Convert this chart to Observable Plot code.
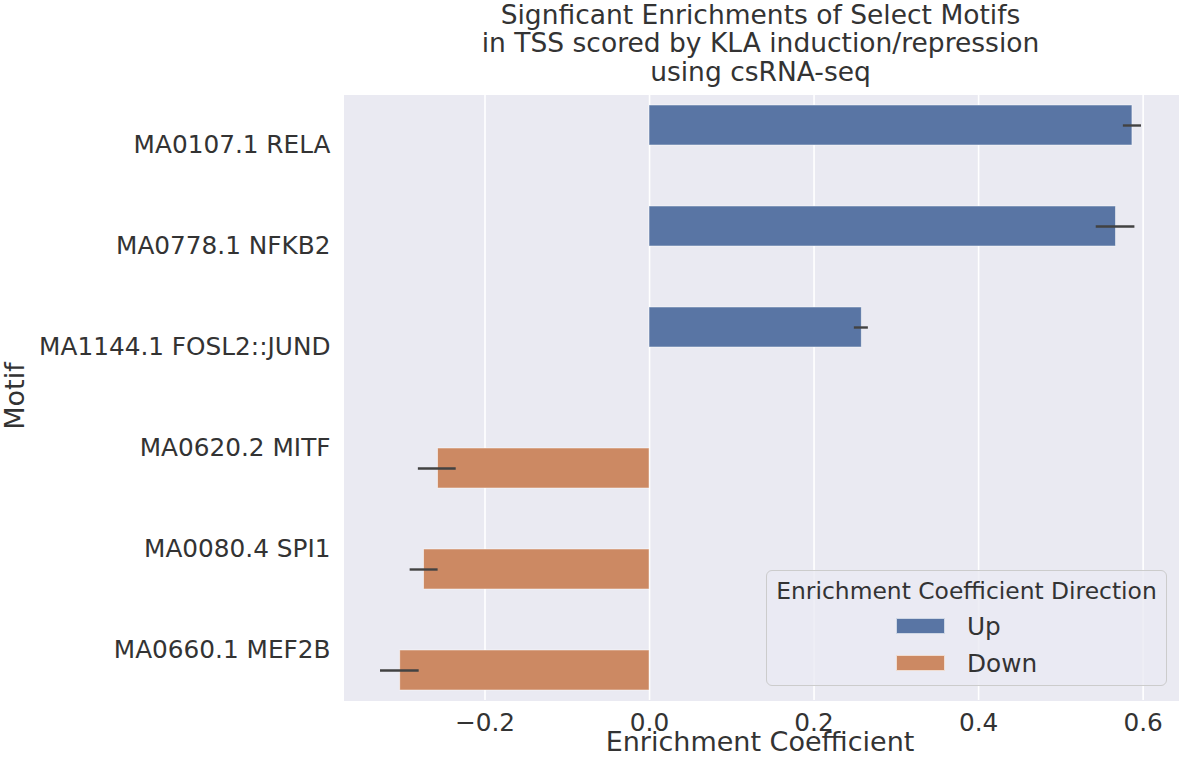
<!DOCTYPE html>
<html>
<head>
<meta charset="utf-8">
<script src="https://cdn.jsdelivr.net/npm/d3@7"></script>
<script src="https://cdn.jsdelivr.net/npm/@observablehq/plot@0.6"></script>
<style>
  body { margin: 0; background: #fff; font-family: "DejaVu Sans", sans-serif; color: #333333; }
  #wrap { position: relative; width: 1181px; height: 763px; overflow: hidden; }
  .t { position: absolute; white-space: nowrap; }
  #legend { position: absolute; left: 766px; top: 570px; width: 399px; height: 114px;
            border: 1px solid #cccccc; border-radius: 6px; background: rgba(234,234,242,0.8); }
  #legend .lt { position: absolute; left: 0; width: 100%; top: 8px; text-align: center; font-size: 23.4px; line-height: 24px; }
  #legend .row { position: absolute; left: 129px; height: 26px; display: flex; align-items: center; font-size: 24.75px; }
  #legend .sw { width: 49px; height: 16px; margin-right: 22px; box-sizing: border-box; border: 1px solid rgba(255,255,255,0.7); }
</style>
</head>
<body>
<div id="wrap">
  <div id="chart"></div>
  <div class="t" style="left:343px;width:835px;top:1px;text-align:center;font-size:26.5px;line-height:28.4px">Signficant Enrichments of Select Motifs<br>in TSS scored by KLA induction/repression<br>using csRNA-seq</div>
  <div class="t" style="left:760px;top:742px;transform:translate(-50%,-50%);font-size:27px;line-height:18px">Enrichment Coefficient</div>
  <div class="t" style="left:14px;top:396px;transform:translate(-50%,-50%) rotate(-90deg);font-size:27px;line-height:27px">Motif</div>
  <div id="legend"><div class="lt">Enrichment Coefficient Direction</div></div>
</div>
<script>
// ---- data ----
const motifs = ["MA0107.1 RELA", "MA0778.1 NFKB2", "MA1144.1 FOSL2::JUND", "MA0620.2 MITF", "MA0080.4 SPI1", "MA0660.1 MEF2B"];
const directions = ["Up", "Up", "Up", "Down", "Down", "Down"];
const coef = [0.587, 0.567, 0.258, -0.257, -0.274, -0.303];
const ciLow = [0.576, 0.543, 0.249, -0.281, -0.291, -0.327];
const ciHigh = [0.598, 0.590, 0.266, -0.235, -0.257, -0.280];
const dirOrder = ["Up", "Down"];
const dirColors = ["#5975a4", "#cc8963"];
const xTicks = [-0.2, 0.0, 0.2, 0.4, 0.6];

const data = motifs.map((m, i) => ({motif: m, dir: directions[i], coef: coef[i], lo: ciLow[i], hi: ciHigh[i]}));

const chart = Plot.plot({
  width: 1181,
  height: 763,
  marginTop: 91,
  marginBottom: 61,
  marginLeft: 343,
  marginRight: 3,
  style: {fontFamily: "DejaVu Sans", fontSize: "24.75px", color: "#333333", background: "transparent", overflow: "visible"},
  x: {domain: [-0.372, 0.643], ticks: xTicks, tickFormat: d3.format(".1f"), tickSize: 0, tickPadding: 13, label: null},
  fy: {domain: motifs, padding: 0, label: null, tickSize: 0, tickPadding: 13},
  y: {domain: dirOrder, paddingInner: 0, paddingOuter: 0.25, axis: null},
  color: {domain: dirOrder, range: dirColors},
  marks: [
    Plot.frame({fill: "#eaeaf2", shapeRendering: "crispEdges"}),
    Plot.gridX(xTicks, {stroke: "white", strokeOpacity: 1, strokeWidth: 1.6}),
    Plot.barX(data, {x: "coef", y: "dir", fy: "motif", fill: "dir", stroke: "white", strokeWidth: 0.8, strokeOpacity: 0.6}),
    Plot.ruleY(data, {x1: "lo", x2: "hi", y: "dir", fy: "motif", stroke: "#424242", strokeWidth: 2.4})
  ]
});
document.getElementById("chart").appendChild(chart);

// legend
const legend = document.getElementById("legend");
const rowTops = [42, 79];
dirOrder.forEach((d, i) => {
  const row = document.createElement("div");
  row.className = "row";
  row.style.top = rowTops[i] + "px";
  const sw = document.createElement("div");
  sw.className = "sw";
  sw.style.background = dirColors[i];
  const lab = document.createElement("span");
  lab.textContent = d;
  row.appendChild(sw);
  row.appendChild(lab);
  legend.appendChild(row);
});
</script>
</body>
</html>
